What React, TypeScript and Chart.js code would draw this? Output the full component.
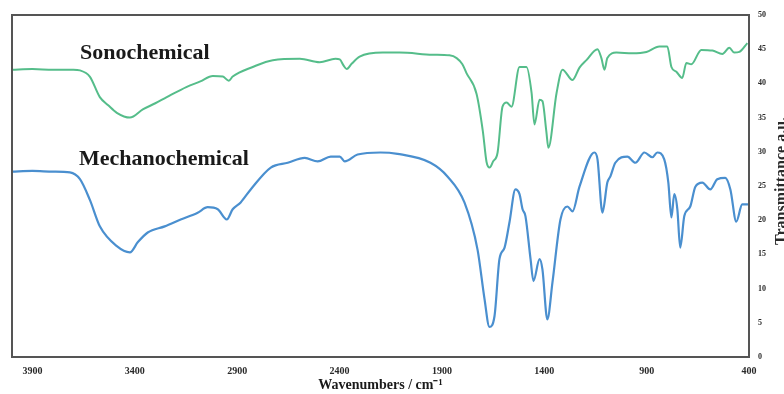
import React, { useEffect, useRef } from "react";
import { Chart, registerables } from "chart.js";

Chart.register(...registerables);

const xTickValues = [3900, 3400, 2900, 2400, 1900, 1400, 900, 400];
const yTickStep = 5;

const seriesLabels = ["Sonochemical", "Mechanochemical"];
const seriesColors = ["#55bd8a", "#4a8fcf"];

const sonoWavenumbers = [
  4000, 3900, 3800, 3700, 3668, 3620, 3571, 3530, 3488, 3424, 3361, 3300, 3244, 3146, 3080, 3019,
  2970, 2941, 2922, 2824, 2726, 2594, 2497, 2420, 2399, 2380, 2365, 2340, 2302, 2189, 2107, 1946,
  1863, 1828, 1800, 1780, 1731, 1700, 1682, 1667, 1650, 1628, 1604, 1584, 1560, 1521, 1487, 1462,
  1448, 1423, 1409, 1390, 1380, 1340, 1311, 1262, 1228, 1194, 1140, 1121, 1106, 1092, 1048, 970,
  901, 838, 799, 779, 755, 726, 706, 682, 633, 579, 530, 496, 472, 447, 408,
];
const sonoValues = [
  42.0, 42.1, 42.0, 42.0, 41.9, 41.0, 38.0, 36.8, 35.7, 35.0, 36.2, 37.1, 38.0, 39.5, 40.3, 41.1,
  41.0, 40.4, 41.0, 42.4, 43.4, 43.6, 43.1, 43.6, 43.5, 42.6, 42.1, 42.9, 43.9, 44.5, 44.5, 44.2,
  44.1, 43.7, 42.8, 41.5, 38.5, 33.0, 28.5, 27.7, 28.6, 29.9, 36.6, 37.2, 36.6, 42.4, 42.4, 38.6,
  34.0, 37.6, 37.4, 33.0, 30.6, 38.6, 42.0, 40.5, 42.3, 43.4, 45.0, 43.7, 42.0, 43.7, 44.5, 44.4,
  44.6, 45.4, 45.4, 42.4, 41.7, 40.8, 43.0, 42.8, 44.9, 44.8, 44.3, 45.2, 44.5, 44.6, 45.9,
];

const mechWavenumbers = [
  4000, 3900, 3800, 3717, 3668, 3620, 3571, 3488, 3424, 3385, 3337, 3254, 3176, 3093, 3044, 2995,
  2951, 2922, 2883, 2834, 2736, 2653, 2570, 2507, 2443, 2399, 2375, 2312, 2200, 2117, 1956, 1873,
  1790, 1726, 1692, 1668, 1643, 1619, 1594, 1570, 1541, 1521, 1506, 1492, 1467, 1453, 1423, 1409,
  1385, 1360, 1321, 1287, 1262, 1228, 1155, 1140, 1116, 1092, 1077, 1053, 994, 955, 911, 872, 848,
  814, 794, 779, 765, 750, 736, 716, 687, 662, 628, 589, 555, 516, 491, 462, 433, 405,
];
const mechValues = [
  27.1, 27.2, 27.1, 27.0, 26.0, 23.0, 19.1, 16.2, 15.3, 16.8, 18.2, 19.1, 20.1, 21.1, 21.9, 21.6,
  20.1, 21.6, 22.6, 24.5, 27.7, 28.4, 29.1, 28.6, 29.3, 29.3, 28.6, 29.6, 29.9, 29.7, 28.4, 26.4,
  22.6, 15.7, 8.5, 4.4, 6.0, 14.3, 16.0, 19.7, 24.5, 23.8, 21.6, 20.6, 14.3, 11.1, 14.3, 12.8,
  5.5, 10.9, 20.1, 22.0, 21.3, 24.9, 29.9, 28.9, 21.1, 25.5, 26.4, 28.4, 29.3, 28.4, 29.9, 29.2, 29.9,
  28.9, 25.5, 20.4, 23.8, 21.6, 16.0, 20.6, 22.0, 24.9, 25.5, 24.5, 26.0, 26.2, 24.5, 19.8, 22.3, 22.3,
];

const textColor = "#2a2a2a";
const serif = "'Liberation Serif', 'Times New Roman', serif";

const decorPlugin = {
  id: "decor",
  afterDraw(chart: any) {
    const { ctx, chartArea } = chart;
    const { left, right, top, bottom } = chartArea;
    ctx.save();
    ctx.strokeStyle = "#555555";
    ctx.lineWidth = 2;
    ctx.strokeRect(left, top, right - left, bottom - top);

    ctx.fillStyle = "#1a1a1a";
    ctx.font = `bold 22px ${serif}`;
    ctx.textBaseline = "middle";
    ctx.textAlign = "left";
    ctx.fillText(seriesLabels[0], 80, 53);
    ctx.fillText(seriesLabels[1], 79, 159);

    ctx.translate(786, 181);
    ctx.rotate(-Math.PI / 2);
    ctx.font = `bold 16px ${serif}`;
    ctx.textAlign = "center";
    ctx.textBaseline = "alphabetic";
    ctx.fillStyle = textColor;
    ctx.fillText("Transmittance a.u.", 0, 0);
    ctx.restore();
  },
};

export default function App() {
  const canvasRef = useRef<HTMLCanvasElement | null>(null);

  useEffect(() => {
    const canvas = canvasRef.current;
    if (!canvas) return;
    const toPoints = (xs: number[], ys: number[]) => xs.map((x, i) => ({ x, y: ys[i] }));
    const chart = new Chart(canvas, {
      type: "line",
      data: {
        datasets: [
          {
            label: seriesLabels[0],
            data: toPoints(sonoWavenumbers, sonoValues),
            borderColor: seriesColors[0],
            borderWidth: 2,
            pointRadius: 0,
            fill: false,
            cubicInterpolationMode: "monotone",
          },
          {
            label: seriesLabels[1],
            data: toPoints(mechWavenumbers, mechValues),
            borderColor: seriesColors[1],
            borderWidth: 2.2,
            pointRadius: 0,
            fill: false,
            cubicInterpolationMode: "monotone",
          },
        ],
      },
      options: {
        responsive: false,
        animation: false,
        layout: { padding: { left: 12, top: 15, right: 0, bottom: 0 } },
        plugins: { legend: { display: false }, tooltip: { enabled: false } },
        scales: {
          x: {
            type: "linear",
            reverse: true,
            min: 400,
            max: 4000,
            grid: { display: false, drawTicks: false },
            border: { display: false },
            afterBuildTicks: (scale: any) => {
              scale.ticks = xTickValues.map((v) => ({ value: v }));
            },
            afterFit: (scale: any) => {
              scale.height = 37;
            },
            ticks: {
              autoSkip: false,
              maxRotation: 0,
              padding: 8,
              color: textColor,
              font: { family: serif, size: 10, weight: "bold" },
              callback: (value: any) => String(value),
            },
            title: {
              display: true,
              text: "Wavenumbers / cm⁻¹",
              color: "#1a1a1a",
              padding: { top: 0, bottom: 0 },
              font: { family: serif, size: 14, weight: "bold" },
            },
          },
          y: {
            position: "right",
            min: 0,
            max: 50,
            grid: { display: false, drawTicks: false },
            border: { display: false },
            afterFit: (scale: any) => {
              scale.width = 35;
            },
            ticks: {
              stepSize: yTickStep,
              padding: 9,
              color: textColor,
              font: { family: serif, size: 8, weight: "bold" },
              callback: (value: any) => String(value),
            },
          },
        },
      },
      plugins: [decorPlugin],
    } as any);
    return () => chart.destroy();
  }, []);

  return (
    <div style={{ position: "fixed", left: 0, top: 0, width: 784, height: 394, background: "#fff" }}>
      <canvas ref={canvasRef} width={784} height={394} style={{ display: "block" }} />
    </div>
  );
}
